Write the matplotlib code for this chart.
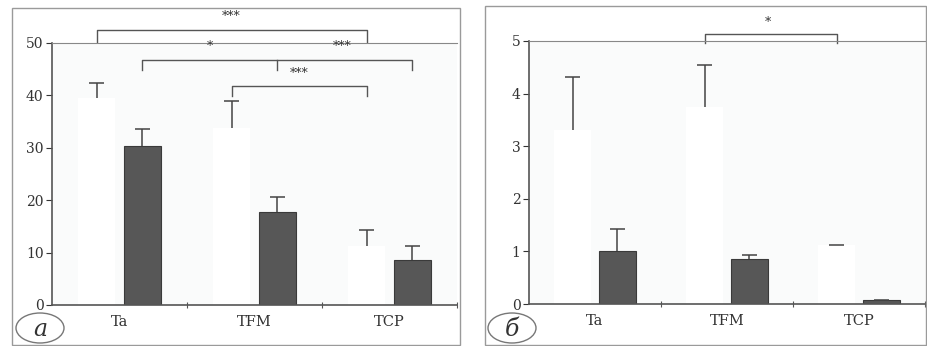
import matplotlib.pyplot as plt
from matplotlib.patches import Ellipse, Rectangle
import numpy as np

plt.rcParams['font.family'] = ['DejaVu Serif']

categories = ['Ta', 'TFM', 'TCP']

# panel а
a_white = [39.5, 33.7, 11.3]
a_white_err = [2.8, 5.3, 3.0]
a_dark = [30.4, 17.8, 8.5]
a_dark_err = [3.2, 2.9, 2.7]

# panel б
b_white = [3.3, 3.75, 1.12]
b_white_err = [1.02, 0.8, 0.0]
b_dark = [1.0, 0.85, 0.07]
b_dark_err = [0.42, 0.08, 0.0]

dark = '#575757'
axbg = '#fafbfb'
frame = '#9a9a9a'


def upper_err(ax, xs, vals, errs, cw=0.055):
    xs = np.asarray(xs)
    tops = np.asarray(vals) + np.asarray(errs)
    ax.vlines(xs, vals, tops, color='#444444', lw=1.1, zorder=3)
    ax.hlines(tops, xs - cw, xs + cw, color='#444444', lw=1.1, zorder=3)


def panel(ax, white, white_err, dark_vals, dark_err, ymax, step):
    x = np.arange(len(categories))
    off, w = 0.17, 0.28
    ax.set_facecolor(axbg)
    ax.bar(x - off, white, w, color='white', edgecolor='none', zorder=2)
    upper_err(ax, x - off, white, white_err)
    ax.bar(x + off, dark_vals, w, color=dark, edgecolor='#3a3a3a', linewidth=0.8, zorder=2)
    upper_err(ax, x + off, dark_vals, dark_err)
    ax.set_xlim(-0.5, 2.5)
    ax.set_ylim(0, ymax)
    ax.set_yticks(np.arange(0, ymax + 0.01, step))
    ax.set_xticks([0.5, 1.5, 2.5])
    ax.set_xticklabels([])
    ax.set_xticks(x, minor=True)
    ax.set_xticklabels(categories, minor=True)
    ax.tick_params(axis='x', which='minor', length=0, labelsize=10.5, pad=7, colors='#333333')
    ax.tick_params(axis='x', which='major', length=5, direction='inout', color='#555555')
    ax.tick_params(axis='y', length=4, labelsize=10, colors='#333333', pad=2)
    ax.spines['right'].set_visible(False)
    ax.spines['top'].set_color('#888888')
    ax.spines['left'].set_color('#555555')
    ax.spines['bottom'].set_color('#555555')
    ax.spines['left'].set_linewidth(1.2)
    ax.spines['bottom'].set_linewidth(1.2)
    return x, off


def bracket(ax, x1, x2, y, drop, text, mid=None):
    kw = dict(color='#555555', lw=1.0, clip_on=False)
    ax.plot([x1, x1, x2, x2], [y - drop, y, y, y - drop], **kw)
    if mid is not None:
        ax.plot([mid, mid], [y, y - drop], **kw)
    for t, xx in text:
        ax.text(xx, y + drop * 0.6, t, ha='center', va='bottom', fontsize=9,
                color='#333333', clip_on=False)


fig = plt.figure(figsize=(9.27, 3.46), dpi=100)

# outer frames
fig.patches.append(Rectangle((12 / 927, 1 / 346), 448 / 927, 337 / 346, transform=fig.transFigure,
                             fill=False, edgecolor=frame, lw=1.0))
fig.patches.append(Rectangle((485 / 927, 1 / 346), 441 / 927, 339 / 346, transform=fig.transFigure,
                             fill=False, edgecolor=frame, lw=1.0))

ax1 = fig.add_axes([52 / 927, 1 - 305 / 346, 405 / 927, 262 / 346])
x, off = panel(ax1, a_white, a_white_err, a_dark, a_dark_err, 50, 10)
bracket(ax1, x[0] - off, x[2] - off, 52.5, 2.3, [('***', 0.83)])
bracket(ax1, x[0] + off, x[2] + off, 46.8, 2.0, [('*', 0.67), ('***', 1.65)], mid=x[1] + off)
bracket(ax1, x[1] - off, x[2] - off, 41.8, 2.0, [('***', 1.33)])

ax2 = fig.add_axes([529 / 927, 1 - 304 / 346, 396 / 927, 263 / 346])
x, off = panel(ax2, b_white, b_white_err, b_dark, b_dark_err, 5, 1)
bracket(ax2, x[1] - off, x[2] - off, 5.13, 0.16, [('*', 1.31)])

# panel letters
for cx, letter in [(40, 'а'), (512, 'б')]:
    fig.patches.append(Ellipse((cx / 927, 1 - 328 / 346), 48 / 927, 30 / 346,
                               transform=fig.transFigure, fill=False, edgecolor='#777777', lw=1.0))
    fig.text(cx / 927, 1 - 330 / 346, letter, ha='center', va='center', fontsize=17,
             style='italic', color='#333333')

fig.savefig('out.png', dpi=100)
